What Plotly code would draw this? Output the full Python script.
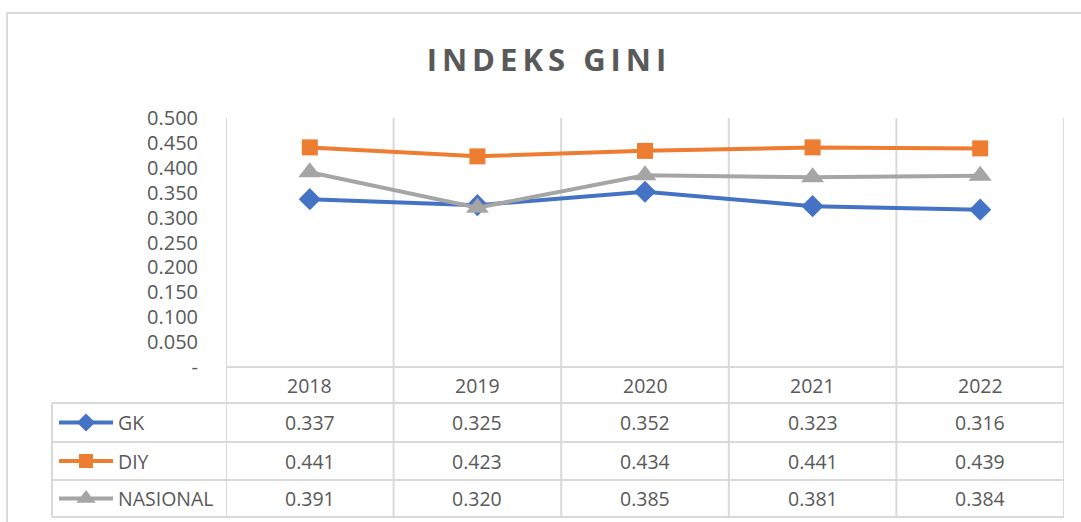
import plotly.graph_objects as go

# data
years = ['2018', '2019', '2020', '2021', '2022']
gk = [0.337, 0.325, 0.352, 0.323, 0.316]
diy = [0.441, 0.423, 0.434, 0.441, 0.439]
nasional = [0.391, 0.320, 0.385, 0.381, 0.384]
y_ticks = [0.0, 0.05, 0.10, 0.15, 0.20, 0.25, 0.30, 0.35, 0.40, 0.45, 0.50]

W, H = 1081, 522
txt_col = '#595959'
grid_col = '#D9D9D9'
font_fam = 'Open Sans'

# name, values, colour, symbol, marker size in plot, marker size in table key
series = [
    ('GK', gk, '#4472C4', 'diamond', 17, 14),
    ('DIY', diy, '#ED7D31', 'square', 16, 14),
    ('NASIONAL', nasional, '#A5A5A5', 'triangle-up', 20, 17),
]


def px_x(p):
    return p / W


def px_y(p):
    return 1 - p / H


# plot area in pixels
left, right, top, bottom = 226, 1064, 118, 367
rows = [367, 403, 442, 480, 517]  # table row borders
tbl_left = 52

fig = go.Figure()

for name, vals, col, sym, ms, ks in series:
    fig.add_trace(go.Scatter(
        x=list(range(len(years))), y=vals, name=name,
        mode='lines+markers',
        line=dict(color=col, width=4),
        marker=dict(symbol=sym, size=ms, color=col, line=dict(width=0)),
        showlegend=False, hoverinfo='y'))

# legend keys inside the table (pixel overlay axes)
for i, (name, vals, col, sym, ms, ks) in enumerate(series):
    cy = (rows[i + 1] + rows[i + 2]) / 2
    fig.add_trace(go.Scatter(
        x=[59, 113], y=[cy, cy], xaxis='x2', yaxis='y2', mode='lines',
        line=dict(color=col, width=4), showlegend=False, hoverinfo='skip'))
    fig.add_trace(go.Scatter(
        x=[86], y=[cy], xaxis='x2', yaxis='y2', mode='markers',
        marker=dict(symbol=sym, size=ks, color=col, line=dict(width=0)),
        showlegend=False, hoverinfo='skip'))

shapes = []
# outer chart border
shapes.append(dict(type='rect', xref='paper', yref='paper',
                   x0=px_x(7), x1=1.02, y0=-0.02, y1=px_y(13),
                   line=dict(color=grid_col, width=2)))
# vertical category lines through plot and table
for k in range(len(years) + 1):
    shapes.append(dict(type='line', xref='x', yref='paper',
                       x0=k - 0.5, x1=k - 0.5, y0=px_y(top), y1=px_y(rows[-1]),
                       line=dict(color=grid_col, width=2), layer='below'))
# horizontal table lines
shapes.append(dict(type='line', xref='paper', yref='paper',
                   x0=px_x(left), x1=px_x(right), y0=px_y(rows[0]), y1=px_y(rows[0]),
                   line=dict(color=grid_col, width=2)))
for r in rows[1:]:
    shapes.append(dict(type='line', xref='paper', yref='paper',
                       x0=px_x(tbl_left), x1=px_x(right), y0=px_y(r), y1=px_y(r),
                       line=dict(color=grid_col, width=2)))
shapes.append(dict(type='line', xref='paper', yref='paper',
                   x0=px_x(tbl_left), x1=px_x(tbl_left), y0=px_y(rows[1]), y1=px_y(rows[-1]),
                   line=dict(color=grid_col, width=2)))

annotations = []
cell_font = dict(family=font_fam, size=19.5, color=txt_col)
hy = (rows[0] + rows[1]) / 2
for j, yr in enumerate(years):
    annotations.append(dict(x=j, y=px_y(hy), xref='x', yref='paper', text=yr,
                            showarrow=False, font=cell_font, yanchor='middle'))
for i, (name, vals, col, sym, ms, ks) in enumerate(series):
    cy = (rows[i + 1] + rows[i + 2]) / 2
    annotations.append(dict(x=px_x(116), y=px_y(cy), xref='paper', yref='paper',
                            text=name, showarrow=False, font=cell_font,
                            xanchor='left', yanchor='middle'))
    for j, v in enumerate(vals):
        annotations.append(dict(x=j, y=px_y(cy), xref='x', yref='paper',
                                text=f'{v:.3f}', showarrow=False, font=cell_font,
                                yanchor='middle'))

fig.update_layout(
    width=W, height=H,
    margin=dict(l=0, r=0, t=0, b=0, pad=0),
    paper_bgcolor='white', plot_bgcolor='rgba(0,0,0,0)',
    title=dict(text='<b>INDEKS GINI</b>', x=549 / W, y=px_y(60),
               xanchor='center', yanchor='middle',
               font=dict(family=font_fam, size=31, color=txt_col)),
    xaxis=dict(domain=[px_x(left), px_x(right)], range=[-0.5, len(years) - 0.5],
               showticklabels=False, showgrid=False, zeroline=False, ticks='',
               automargin=False),
    yaxis=dict(domain=[px_y(bottom), px_y(top)], range=[0, 0.5],
               tickvals=y_ticks,
               ticktext=['-' if t == 0 else f'{t:.3f}' for t in y_ticks],
               tickfont=dict(family=font_fam, size=20, color=txt_col),
               ticklabelstandoff=27, automargin=False,
               showgrid=False, zeroline=False, ticks=''),
    xaxis2=dict(domain=[0, 1], range=[0, W], visible=False, anchor='y2',
                automargin=False),
    yaxis2=dict(domain=[0, 1], range=[H, 0], visible=False, anchor='x2',
                automargin=False),
    shapes=shapes,
    annotations=annotations,
)

fig.write_html("out.html", config={'displayModeBar': False},
               post_script="document.body.style.margin='0';document.body.style.overflow='hidden';"
                           "document.querySelectorAll('.gtitle').forEach(function(e){e.style.letterSpacing='5px';});")
